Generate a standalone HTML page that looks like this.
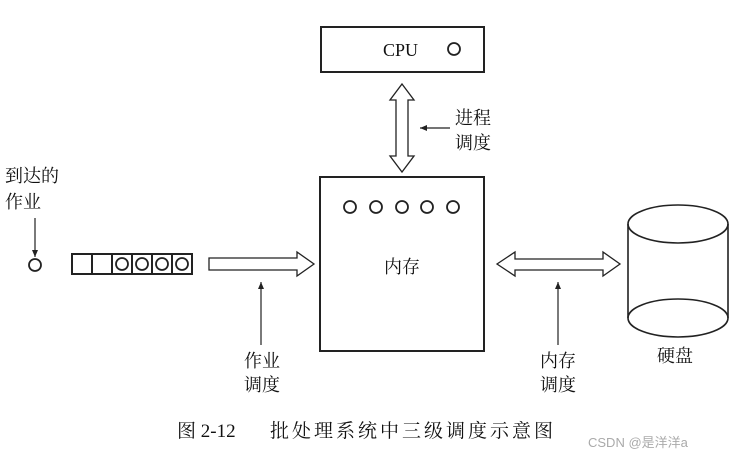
<!DOCTYPE html>
<html><head><meta charset="utf-8"><style>
html,body{margin:0;padding:0;background:#fff;}
svg{display:block;}
text{font-family:"Liberation Serif","Noto Serif CJK SC","Noto Sans CJK SC",serif;fill:#111;}
</style></head><body>
<svg width="735" height="455" viewBox="0 0 735 455" xmlns="http://www.w3.org/2000/svg">
<defs><marker id="ah" markerWidth="8" markerHeight="8" refX="7" refY="4" orient="auto" markerUnits="userSpaceOnUse"><path d="M0,1 L7,4 L0,7 Z" fill="#222"/></marker></defs>
<g stroke="#222" stroke-width="2" fill="none">
<rect x="321" y="27" width="163" height="45"/>
<circle cx="454" cy="49" r="6" stroke-width="1.8"/>
<path d="M402,84 L414,100 L408,100 L408,156 L414,156 L402,172 L390,156 L396,156 L396,100 L390,100 Z" stroke-width="1.3"/>
<rect x="320" y="177" width="164" height="174"/>
<g stroke-width="1.8"><circle cx="350" cy="207" r="6"/><circle cx="376" cy="207" r="6"/><circle cx="402" cy="207" r="6"/><circle cx="427" cy="207" r="6"/><circle cx="453" cy="207" r="6"/></g>
<circle cx="35" cy="265" r="6" stroke-width="1.8"/>
<rect x="72" y="254" width="120" height="20"/>
<path d="M92,254V274M112,254V274M132,254V274M152,254V274M172,254V274"/>
<g stroke-width="1.8"><circle cx="122" cy="264" r="6"/><circle cx="142" cy="264" r="6"/><circle cx="162" cy="264" r="6"/><circle cx="182" cy="264" r="6"/></g>
<path d="M209,258 L297,258 L297,252 L314,264 L297,276 L297,270 L209,270 Z" stroke-width="1.3"/>
<path d="M497,264 L515,252 L515,259 L603,259 L603,252 L620,264 L603,276 L603,270 L515,270 L515,276 Z" stroke-width="1.3"/>
<g stroke-width="1.6">
<ellipse cx="678" cy="224" rx="50" ry="19"/>
<path d="M628,224 L628,318 M728,224 L728,318"/>
<ellipse cx="678" cy="318" rx="50" ry="19"/>
</g>
</g>
<g stroke="#222" stroke-width="1.2">
<line x1="35" y1="218" x2="35" y2="257" marker-end="url(#ah)"/>
<line x1="261" y1="345" x2="261" y2="282" marker-end="url(#ah)"/>
<line x1="558" y1="345" x2="558" y2="282" marker-end="url(#ah)"/>
<line x1="450" y1="128" x2="420" y2="128" marker-end="url(#ah)"/>
</g>
<g font-size="18">
<text x="383" y="56">CPU</text>
<text x="455" y="124">进程</text>
<text x="455" y="149">调度</text>
<text x="384" y="273">内存</text>
<text x="5" y="182">到达的</text>
<text x="5" y="208">作业</text>
<text x="244" y="367">作业</text>
<text x="244" y="391">调度</text>
<text x="540" y="367">内存</text>
<text x="540" y="391">调度</text>
<text x="657" y="362">硬盘</text>
<text x="177" y="437" font-size="19">图 2-12</text>
<text x="270" y="437" font-size="19" letter-spacing="3">批处理系统中三级调度示意图</text>
</g>
<text x="588" y="447" font-size="13" style="font-family:'Liberation Sans','Noto Sans CJK SC',sans-serif;fill:#aaa">CSDN @是洋洋a</text>
</svg>
</body></html>
